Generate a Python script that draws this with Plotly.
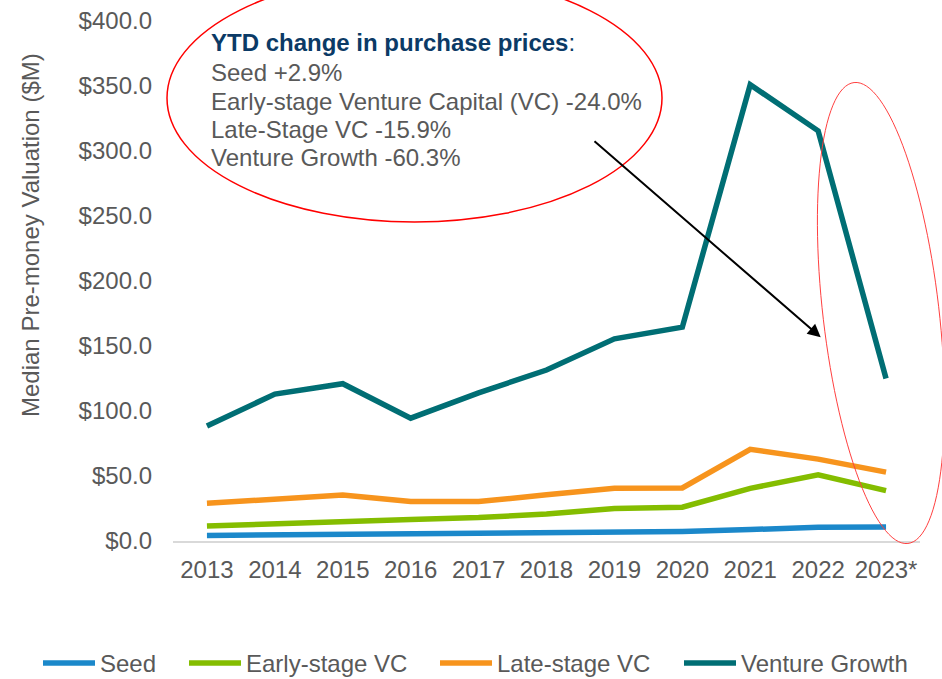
import math
import plotly.graph_objects as go

years = ["2013", "2014", "2015", "2016", "2017", "2018", "2019", "2020", "2021", "2022", "2023*"]
seed = [4.3, 4.8, 5.2, 5.3, 5.7, 6.0, 7.0, 7.3, 8.8, 10.5, 10.8]
early_vc = [11.5, 13.5, 15.5, 16.5, 18.0, 20.8, 25.0, 26.0, 40.5, 51.0, 38.8]
late_vc = [29.0, 32.5, 35.3, 30.3, 30.3, 35.5, 40.5, 40.8, 70.5, 63.0, 53.0]
venture_growth = [88.5, 113.0, 121.0, 94.5, 114.0, 131.5, 155.5, 164.5, 351.0, 315.5, 125.0]

series_names = ["Seed", "Early-stage VC", "Late-stage VC", "Venture Growth"]
series_values = [seed, early_vc, late_vc, venture_growth]
series_colors = ["#1B88CA", "#84BD00", "#F7941D", "#006E74"]

note_title = "YTD change in purchase prices"
note_lines = ["Seed +2.9%", "Early-stage Venture Capital (VC) -24.0%",
              "Late-Stage VC -15.9%", "Venture Growth -60.3%"]
y_title = "Median Pre-money Valuation ($M)"

W, H = 942, 679
L, R, T, B = 173, 22, 21, 138
PW, PH = W - L - R, H - T - B

def px(x):
    return (x - L) / PW

def py(y):
    return (H - B - y) / PH

FONT = "Arial, 'Liberation Sans', sans-serif"
GRAY = "#595959"
FS = 24

fig = go.Figure()
for name, vals, col in zip(series_names, series_values, series_colors):
    fig.add_trace(go.Scatter(x=years, y=vals, name=name, mode="lines",
                             line=dict(color=col, width=5.5), showlegend=False))

fig.update_layout(
    width=W, height=H,
    margin=dict(l=L, r=R, t=T, b=B),
    paper_bgcolor="white", plot_bgcolor="white",
    font=dict(family=FONT, size=FS, color=GRAY),
    showlegend=False,
)
fig.update_xaxes(type="category", range=[-0.5, 10.5], showgrid=False, showline=True,
                 linecolor="#D9D9D9", linewidth=2, ticks="", automargin=False,
                 ticklabelstandoff=6, tickfont=dict(size=FS, color=GRAY))
fig.update_yaxes(range=[0, 400], dtick=50, tickprefix="$", tickformat=".1f",
                 showgrid=False, zeroline=False, showline=False, ticks="",
                 automargin=False,
                 ticklabelstandoff=20, tickfont=dict(size=FS, color=GRAY))

# y-axis title (placed as in the reference, above the plot centre)
fig.add_annotation(x=px(30), y=py(235), xref="paper", yref="paper",
                   text=y_title, textangle=-90, showarrow=False,
                   xanchor="center", yanchor="middle",
                   font=dict(size=FS, color=GRAY, family=FONT))

# legend drawn manually (single row, as in the reference)
leg_x = [41, 187, 438, 682]
leg_y = 663
for name, col, x0 in zip(series_names, series_colors, leg_x):
    fig.add_shape(type="line", xref="paper", yref="paper",
                  x0=px(x0 + 2), x1=px(x0 + 54), y0=py(leg_y), y1=py(leg_y),
                  line=dict(color=col, width=5.5))
    fig.add_annotation(x=px(x0 + 57), y=py(leg_y), xref="paper", yref="paper",
                       text=name, showarrow=False, xanchor="left", yanchor="middle",
                       font=dict(size=FS, color=GRAY, family=FONT))

# red ellipse around the text
fig.add_shape(type="circle", xref="paper", yref="paper",
              x0=px(167), x1=px(662), y0=py(222), y1=py(-26),
              line=dict(color="#FF0000", width=1.5), layer="above")

# tilted ellipse around 2023
cx, cy, a, b = 881.0, 313.0, 232.0, 58.0
ux, uy = 54 / 465.1, 462 / 465.1
vx, vy = uy, -ux
pts = []
for i in range(121):
    t = 2 * math.pi * i / 120
    X = cx + a * math.cos(t) * ux + b * math.sin(t) * vx
    Y = cy + a * math.cos(t) * uy + b * math.sin(t) * vy
    pts.append(f"{px(X):.5f},{py(Y):.5f}")
path = "M " + " L ".join(pts) + " Z"
fig.add_shape(type="path", xref="paper", yref="paper", path=path,
              line=dict(color="#FF4040", width=1), layer="above")

# arrow
fig.add_annotation(x=px(820.7), y=py(337.3), xref="paper", yref="paper",
                   ax=593 - 820.7, ay=140 - 337.3, axref="pixel", ayref="pixel",
                   showarrow=True, arrowhead=2, arrowsize=1.3, arrowwidth=2,
                   arrowcolor="black", text="", standoff=0)

# text lines
line_y = [43, 72, 101, 129, 158]
fig.add_annotation(x=px(209), y=py(line_y[0]), xref="paper", yref="paper",
                   xanchor="left", yanchor="middle", showarrow=False,
                   text=f"<b>{note_title}</b>:",
                   font=dict(size=FS, color="#0B3A66", family=FONT))
for txt, yy in zip(note_lines, line_y[1:]):
    fig.add_annotation(x=px(209), y=py(yy), xref="paper", yref="paper",
                       xanchor="left", yanchor="middle", showarrow=False,
                       text=txt, font=dict(size=FS, color=GRAY, family=FONT))

fig.write_html("out.html", config={"displayModeBar": False},
               post_script="document.body.style.margin='0';document.body.style.overflow='hidden';")
